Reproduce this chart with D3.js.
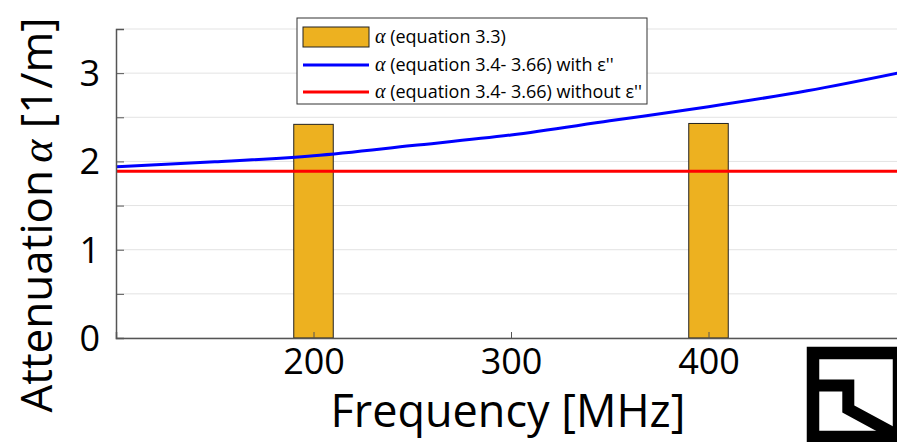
<!DOCTYPE html>
<html>
<head>
<meta charset="utf-8">
<script src="https://cdn.jsdelivr.net/npm/d3@7"></script>
<style>
  body { margin: 0; background: #fff; }
  svg { display: block; font-family: 'Open Sans', sans-serif; }
  .serif { font-family: 'Liberation Serif', 'DejaVu Serif', serif; font-style: italic; }
</style>
</head>
<body>
<svg width="897" height="442"></svg>
<script>
// frequency samples for the two model curves [MHz]
const freqs = [100, 150, 200, 250, 300, 350, 400, 450, 500];
const alphaWithEps = [1.94, 1.995, 2.065, 2.18, 2.30, 2.46, 2.62, 2.80, 3.02];
const alphaWithoutEps = [1.89, 1.89, 1.89, 1.89, 1.89, 1.89, 1.89, 1.89, 1.89];

// measured values (equation 3.3)
const barFreqs = [200, 400];
const barAlpha = [2.42, 2.43];
const barSpan = 20; // MHz

const xTicks = [200, 300, 400];
const yTicks = [0, 0.5, 1, 1.5, 2, 2.5, 3, 3.5];
const yTickLabels = [0, 1, 2, 3];

const legendLabels = [
    '(equation 3.3)',
    '(equation 3.4- 3.66) with \u03b5\'\'',
    '(equation 3.4- 3.66) without \u03b5\'\''
];

const svg = d3.select('svg');
const margin = { top: 29, left: 116, bottom: 104 };
const height = +svg.attr('height');
const innerHeight = height - margin.top - margin.bottom;

const xScale = d3.scaleLinear()
    .domain([100, 500])
    .range([margin.left, margin.left + 790]);

const yScale = d3.scaleLinear()
    .domain([0, 3.5])
    .range([margin.top + innerHeight, margin.top]);

const axisColor = '#555';

// grid
svg.append('g')
    .selectAll('line').data(yTicks)
    .enter().append('line')
        .attr('x1', xScale(100))
        .attr('x2', xScale(500))
        .attr('y1', d => yScale(d))
        .attr('y2', d => yScale(d))
        .attr('stroke', '#e3e3e3')
        .attr('stroke-width', 1);

// bars
svg.append('g')
    .selectAll('rect').data(barFreqs)
    .enter().append('rect')
        .attr('x', d => xScale(d - barSpan / 2))
        .attr('width', d => xScale(d + barSpan / 2) - xScale(d - barSpan / 2))
        .attr('y', (d, i) => yScale(barAlpha[i]))
        .attr('height', (d, i) => yScale(0) - yScale(barAlpha[i]))
        .attr('fill', '#EDB120')
        .attr('stroke', '#222')
        .attr('stroke-width', 1);

// curves
const line = d3.line()
    .x((d, i) => xScale(freqs[i]))
    .y(d => yScale(d))
    .curve(d3.curveMonotoneX);

svg.append('path')
    .attr('d', line(alphaWithoutEps))
    .attr('fill', 'none')
    .attr('stroke', '#ff0000')
    .attr('stroke-width', 3);

svg.append('path')
    .attr('d', line(alphaWithEps))
    .attr('fill', 'none')
    .attr('stroke', '#0000ff')
    .attr('stroke-width', 3);

// y axis: ticks every 0.5, labels only on integers
const yAxisG = svg.append('g')
    .attr('transform', `translate(${margin.left},0)`)
    .call(d3.axisLeft(yScale)
        .tickValues(yTicks)
        .tickSize(-8)
        .tickFormat(''));
yAxisG.select('.domain').attr('stroke', axisColor).attr('stroke-width', 1.5);
yAxisG.selectAll('.tick line').attr('stroke', axisColor);
yAxisG.selectAll('.tick text').remove();

svg.append('g')
    .selectAll('text').data(yTickLabels)
    .enter().append('text')
        .attr('x', margin.left - 16)
        .attr('y', d => yScale(d))
        .attr('dy', '0.36em')
        .attr('text-anchor', 'end')
        .attr('font-size', 36)
        .text(d => d);

// x axis
const xAxisG = svg.append('g')
    .attr('transform', `translate(0,${yScale(0)})`)
    .call(d3.axisBottom(xScale)
        .tickValues(xTicks)
        .tickSize(-6)
        .tickPadding(10));
xAxisG.select('.domain').attr('stroke', axisColor).attr('stroke-width', 1.5);
xAxisG.selectAll('.tick line').attr('stroke', axisColor);
xAxisG.selectAll('.tick text')
    .attr('font-size', 36)
    .attr('font-family', "'Open Sans', sans-serif")
    .attr('fill', '#000');

// axis labels
svg.append('text')
    .attr('x', 508)
    .attr('y', 427)
    .attr('text-anchor', 'middle')
    .attr('font-size', 45)
    .text('Frequency [MHz]');

const yLabel = svg.append('text')
    .attr('transform', 'translate(52,215) rotate(-90)')
    .attr('text-anchor', 'middle')
    .attr('font-size', 44);
yLabel.append('tspan').text('Attenuation\u2009');
yLabel.append('tspan').attr('class', 'serif').text('\u03b1');
yLabel.append('tspan').text(' [1/m]');

// legend
const legend = svg.append('g').attr('transform', 'translate(297,18)');
legend.append('rect')
    .attr('width', 350)
    .attr('height', 86)
    .attr('fill', '#fff')
    .attr('stroke', '#333')
    .attr('stroke-width', 1);

const rows = [19, 47, 74];
legend.append('rect')
    .attr('x', 6).attr('y', rows[0] - 10)
    .attr('width', 66).attr('height', 20)
    .attr('fill', '#EDB120')
    .attr('stroke', '#222');
legend.append('line')
    .attr('x1', 6).attr('x2', 72)
    .attr('y1', rows[1]).attr('y2', rows[1])
    .attr('stroke', '#0000ff').attr('stroke-width', 3);
legend.append('line')
    .attr('x1', 6).attr('x2', 72)
    .attr('y1', rows[2]).attr('y2', rows[2])
    .attr('stroke', '#ff0000').attr('stroke-width', 3);

legendLabels.forEach((label, i) => {
    const t = legend.append('text')
        .attr('x', 78)
        .attr('y', rows[i] + 6)
        .attr('font-size', 18);
    t.append('tspan').attr('class', 'serif').attr('font-size', 20).text('\u03b1');
    t.append('tspan').text(' ' + label);
});

// logo
const logo = svg.append('g');
logo.append('rect')
    .attr('x', 813).attr('y', 353)
    .attr('width', 86).attr('height', 84)
    .attr('fill', 'none')
    .attr('stroke', '#000')
    .attr('stroke-width', 12.5);
logo.append('path')
    .attr('d', 'M819,385.5 H848.3 V409 L900,437')
    .attr('fill', 'none')
    .attr('stroke', '#000')
    .attr('stroke-width', 12)
    .attr('stroke-linejoin', 'miter');
</script>
</body>
</html>
